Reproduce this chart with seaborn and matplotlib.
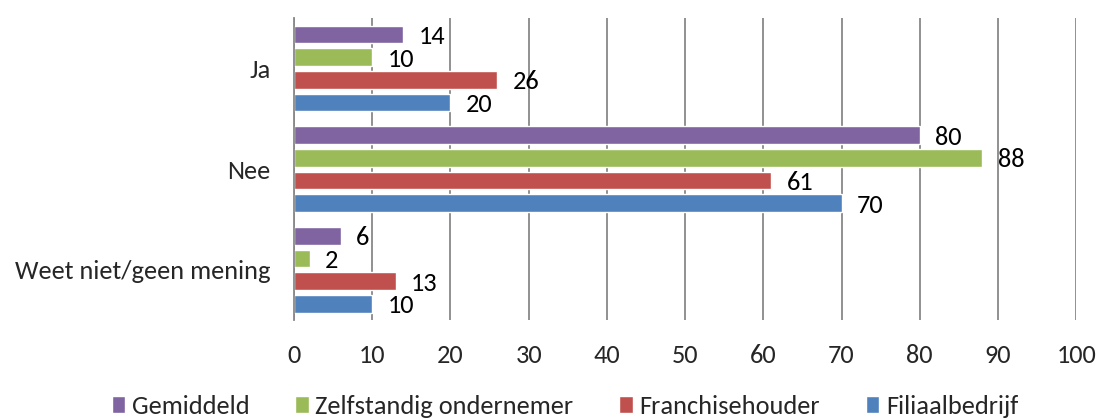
import pandas as pd
import matplotlib.pyplot as plt
import seaborn as sns

categories = ['Ja', 'Nee', 'Weet niet/geen mening']
series = ['Gemiddeld', 'Zelfstandig ondernemer', 'Franchisehouder', 'Filiaalbedrijf']
gemiddeld = [14, 80, 6]
zelfstandig = [10, 88, 2]
franchise = [26, 61, 13]
filiaal = [20, 70, 10]
colors = ['#8064A2', '#9BBB59', '#C0504D', '#4F81BD']

values = [gemiddeld, zelfstandig, franchise, filiaal]
rows = []
for s, vals in zip(series, values):
    for c, v in zip(categories, vals):
        rows.append({'cat': c, 'serie': s, 'val': v})
data = pd.DataFrame(rows)

sns.set_style('white')
plt.rcParams['font.family'] = ['Carlito', 'Liberation Sans', 'DejaVu Sans']

fig = plt.figure(figsize=(10.97, 4.2), dpi=100)
ax = fig.add_axes([0.268, 0.238, 0.713, 0.719])
sns.barplot(data=data, y='cat', x='val', hue='serie', order=categories,
            hue_order=series, palette=colors, orient='h', width=0.9,
            gap=0.22, saturation=1, ax=ax, legend=True)

# waarde achter elke balk
for cont in ax.containers:
    for bar in cont:
        w = bar.get_width()
        ax.annotate(f'{w:.0f}', (w, bar.get_y() + bar.get_height() / 2),
                    xytext=(11, -1.5), textcoords='offset points',
                    ha='left', va='center', fontsize=19, color='black')

ax.set_xlim(0, 100)
ax.set_ylim(2.5, -0.5)
ax.set_xticks(range(0, 101, 10))
ax.grid(axis='x', color='#888888', linewidth=1.3)
ax.set_axisbelow(True)
for side in ['top', 'right', 'bottom']:
    ax.spines[side].set_visible(False)
ax.spines['left'].set_color('#888888')
ax.spines['left'].set_linewidth(1.3)
ax.set_xlabel('')
ax.set_ylabel('')
ax.tick_params(axis='both', length=0, labelsize=19)
ax.tick_params(axis='x', pad=17)
ax.tick_params(axis='y', pad=17)

handles, labels = ax.get_legend_handles_labels()
ax.legend(handles, labels, loc='center', ncol=4, frameon=False, fontsize=19,
          handlelength=0.5, handleheight=0.6, handletextpad=0.25,
          columnspacing=1.75, borderaxespad=0)
ax.get_legend().set_bbox_to_anchor((0.515, 0.033), transform=fig.transFigure)

fig.savefig('out.png', dpi=100)
